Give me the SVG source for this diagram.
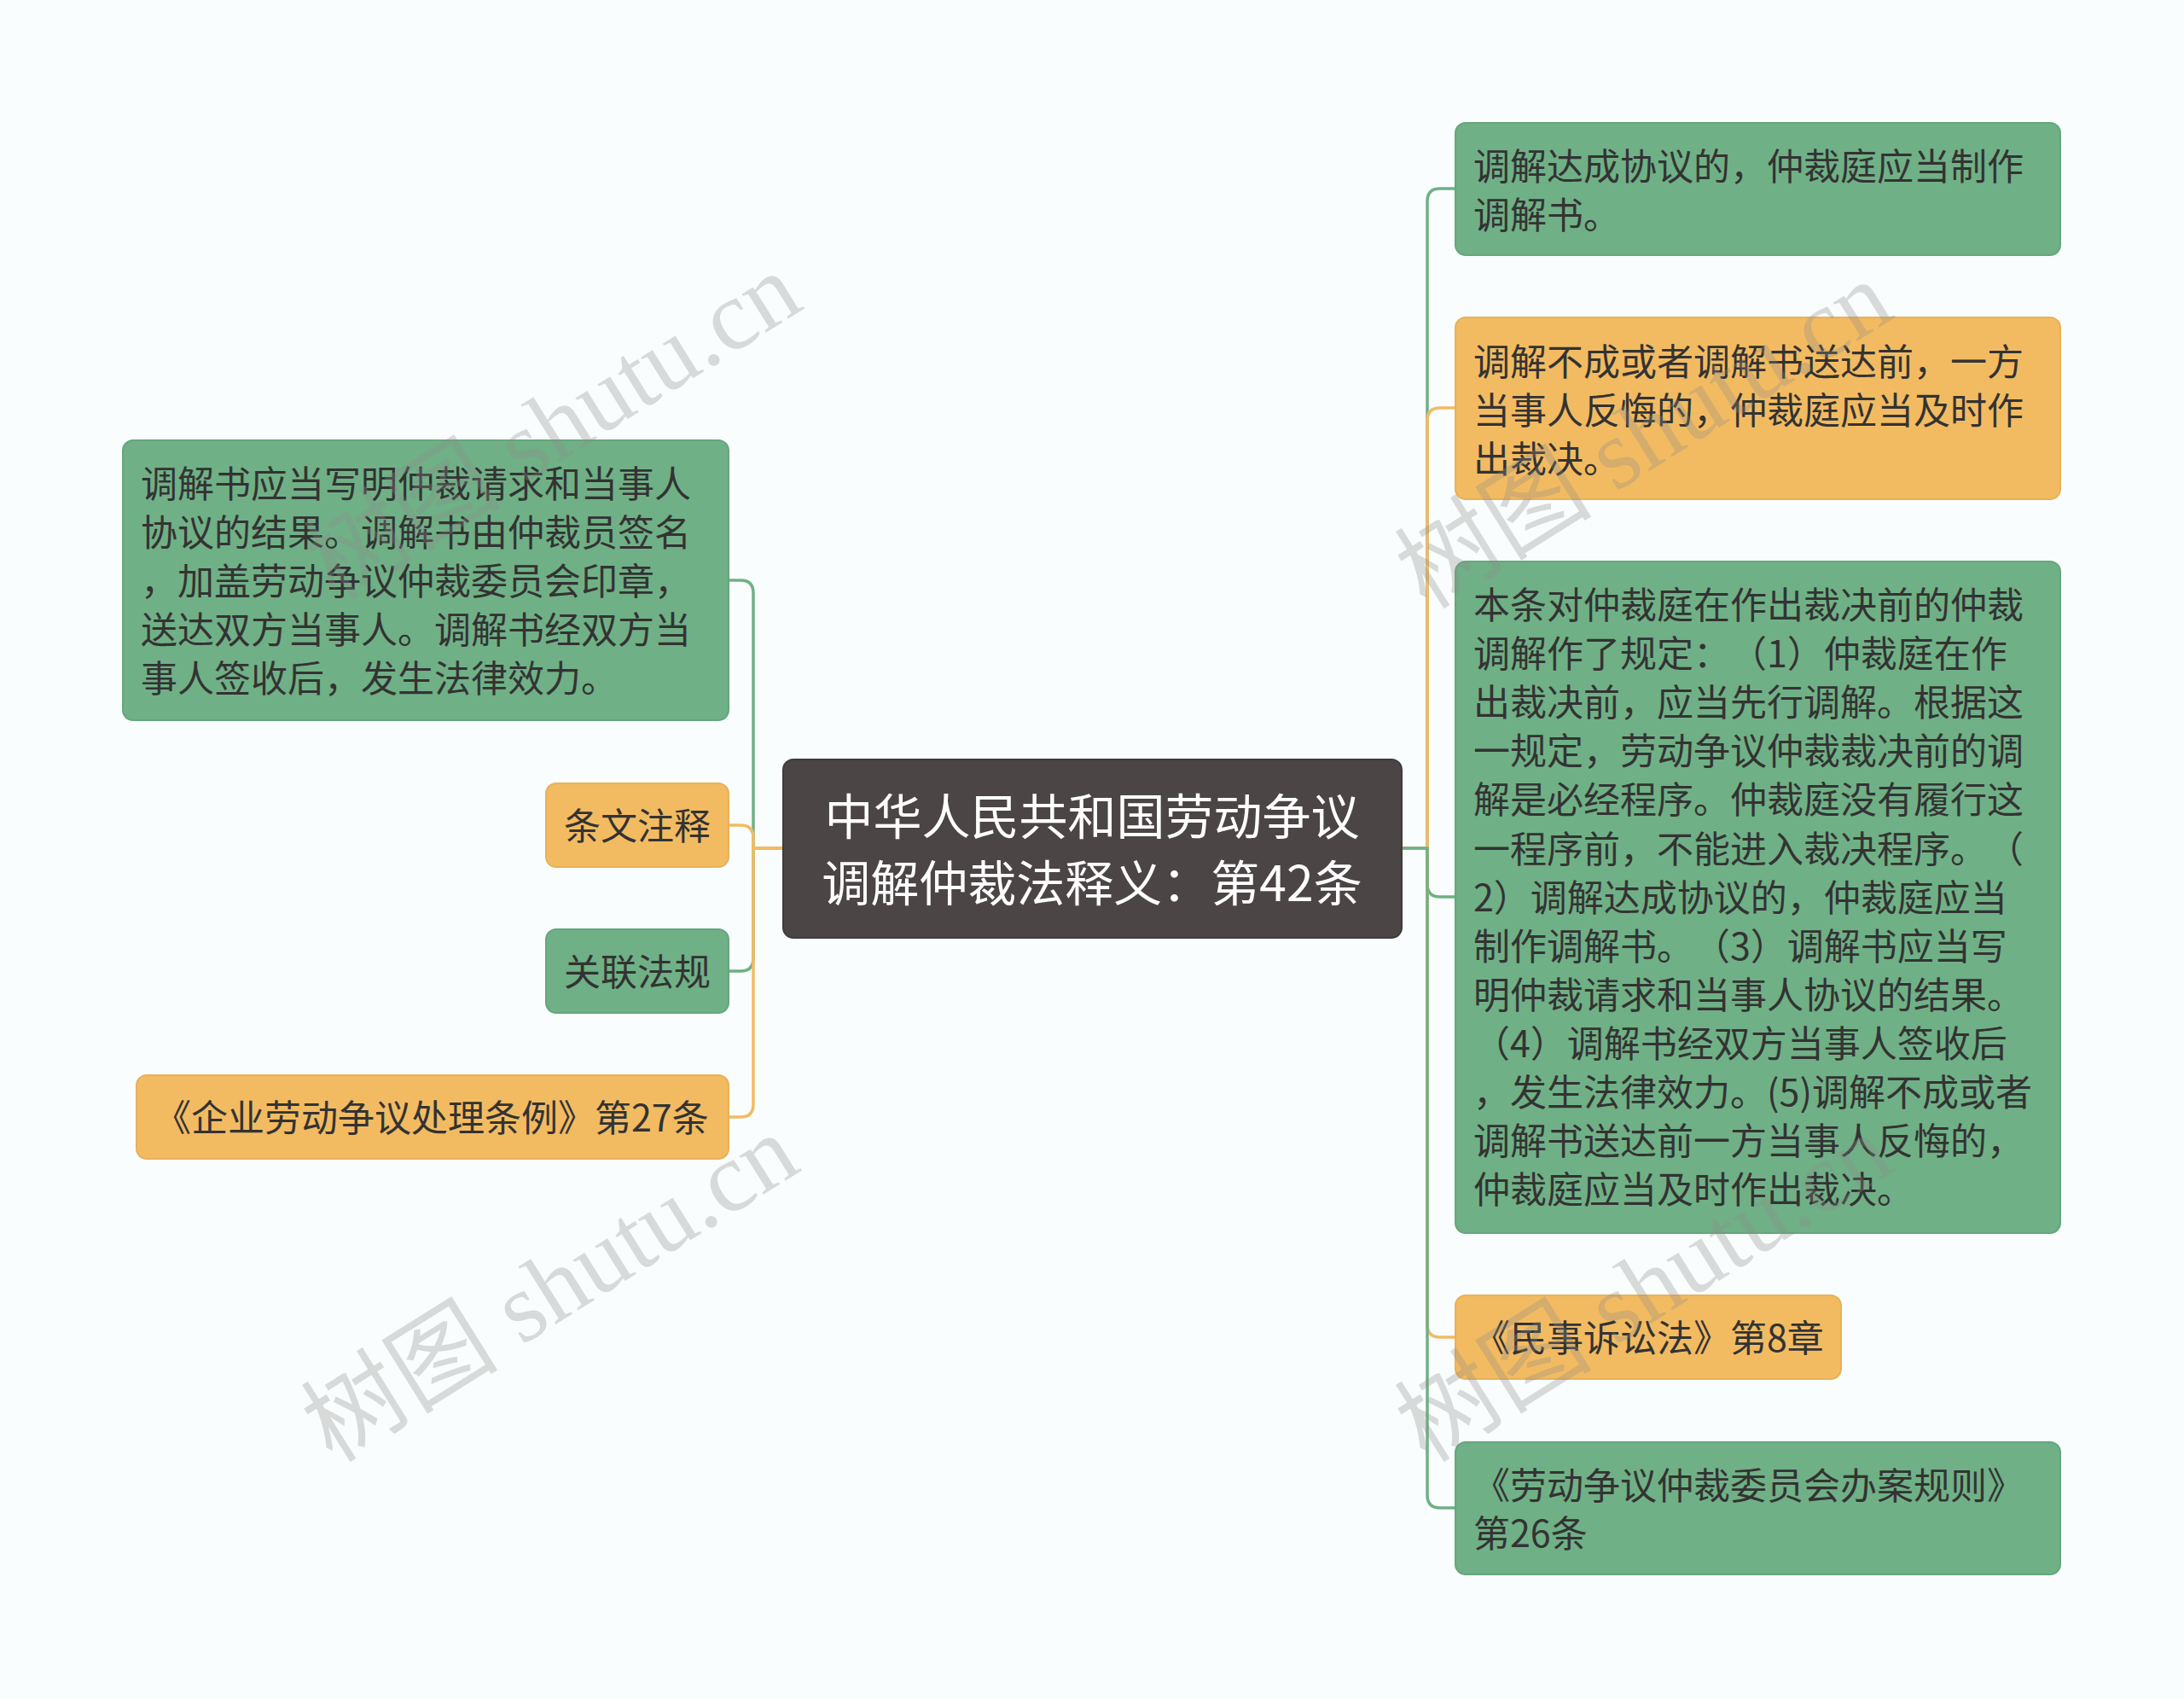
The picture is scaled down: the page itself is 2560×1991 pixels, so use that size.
<svg xmlns="http://www.w3.org/2000/svg" width="2560" height="1991" viewBox="0 0 2560 1991">
<style>
text{text-spacing-trim:space-all}
.t{font-family:"Noto Sans CJK SC","Noto Sans",sans-serif;font-size:43px;fill:#333333;dominant-baseline:central}
.ct{font-family:"Noto Sans CJK SC","Noto Sans",sans-serif;font-size:57px;fill:#ffffff;dominant-baseline:central;text-anchor:middle}
.g{fill:#70b086;stroke:#66a67c;stroke-width:2}
.o{fill:#f2bb62;stroke:#e8b158;stroke-width:2}
.c{fill:#4b4546;stroke:#3f3a3b;stroke-width:2}
.lg{fill:none;stroke:#70b086;stroke-width:3.5}
.lo{fill:none;stroke:#f2bb62;stroke-width:3.5}
.wm{font-family:"Liberation Serif","Noto Sans CJK SC",serif;font-size:116px;fill:#8a8a8a;fill-opacity:0.3;text-anchor:middle;dominant-baseline:central}
</style>
<rect x="0" y="0" width="2560" height="1991" fill="#f9fdfd"/>
<g id="connectors">
<path class="lg" d="M918 994 H883 V695 Q883 680 868 680 H854"/>
<path class="lg" d="M918 994 H883 V1123 Q883 1138 868 1138 H854"/>
<path class="lo" d="M918 994 H883 V982 Q883 967 868 967 H854"/>
<path class="lo" d="M918 994 H883 V1294 Q883 1309 868 1309 H854"/>
<path class="lg" d="M1643 994 H1673 V236 Q1673 221 1688 221 H1706"/>
<path class="lo" d="M1643 994 H1673 V493 Q1673 478 1688 478 H1706"/>
<path class="lg" d="M1643 994 H1673 V1036 Q1673 1051 1688 1051 H1706"/>
<path class="lo" d="M1643 994 H1673 V1552 Q1673 1567 1688 1567 H1706"/>
<path class="lg" d="M1643 994 H1673 V1752 Q1673 1767 1688 1767 H1706"/>
</g>
<g id="center">
<rect class="c" x="918" y="890" width="725" height="209" rx="12"/>
<text class="ct" x="1280" y="953">中华人民共和国劳动争议</text>
<text class="ct" x="1280" y="1031">调解仲裁法释义：第42条</text>
</g>
<g id="left1">
<rect class="g" x="144" y="516" width="710" height="328" rx="12"/>
<text class="t" x="165" y="564">调解书应当写明仲裁请求和当事人</text>
<text class="t" x="165" y="621">协议的结果。调解书由仲裁员签名</text>
<text class="t" x="165" y="678">，加盖劳动争议仲裁委员会印章，</text>
<text class="t" x="165" y="735">送达双方当事人。调解书经双方当</text>
<text class="t" x="165" y="792">事人签收后，发生法律效力。</text>
</g>
<g id="left2">
<rect class="o" x="640" y="918" width="214" height="98" rx="12"/>
<text class="t" x="661" y="965">条文注释</text>
</g>
<g id="left3">
<rect class="g" x="640" y="1089" width="214" height="98" rx="12"/>
<text class="t" x="661" y="1136">关联法规</text>
</g>
<g id="left4">
<rect class="o" x="160" y="1260" width="694" height="98" rx="12"/>
<text class="t" x="181" y="1307">《企业劳动争议处理条例》第27条</text>
</g>
<g id="right1">
<rect class="g" x="1706" y="144" width="709" height="155" rx="12"/>
<text class="t" x="1727" y="192">调解达成协议的，仲裁庭应当制作</text>
<text class="t" x="1727" y="249">调解书。</text>
</g>
<g id="right2">
<rect class="o" x="1706" y="372" width="709" height="213" rx="12"/>
<text class="t" x="1727" y="421">调解不成或者调解书送达前，一方</text>
<text class="t" x="1727" y="478">当事人反悔的，仲裁庭应当及时作</text>
<text class="t" x="1727" y="535">出裁决。</text>
</g>
<g id="right3">
<rect class="g" x="1706" y="658" width="709" height="787" rx="12"/>
<text class="t" x="1727" y="706">本条对仲裁庭在作出裁决前的仲裁</text>
<text class="t" x="1727" y="763">调解作了规定：（1）仲裁庭在作</text>
<text class="t" x="1727" y="820">出裁决前，应当先行调解。根据这</text>
<text class="t" x="1727" y="877">一规定，劳动争议仲裁裁决前的调</text>
<text class="t" x="1727" y="934">解是必经程序。仲裁庭没有履行这</text>
<text class="t" x="1727" y="992">一程序前，不能进入裁决程序。（</text>
<text class="t" x="1727" y="1049">2）调解达成协议的，仲裁庭应当</text>
<text class="t" x="1727" y="1106">制作调解书。（3）调解书应当写</text>
<text class="t" x="1727" y="1163">明仲裁请求和当事人协议的结果。</text>
<text class="t" x="1727" y="1220">（4）调解书经双方当事人签收后</text>
<text class="t" x="1727" y="1277">，发生法律效力。(5)调解不成或者</text>
<text class="t" x="1727" y="1334">调解书送达前一方当事人反悔的，</text>
<text class="t" x="1727" y="1391">仲裁庭应当及时作出裁决。</text>
</g>
<g id="right4">
<rect class="o" x="1706" y="1518" width="452" height="98" rx="12"/>
<text class="t" x="1727" y="1565">《民事诉讼法》第8章</text>
</g>
<g id="right5">
<rect class="g" x="1706" y="1690" width="709" height="155" rx="12"/>
<text class="t" x="1727" y="1738">《劳动争议仲裁委员会办案规则》</text>
<text class="t" x="1727" y="1794">第26条</text>
</g>
<g id="watermark">
<text class="wm" x="648" y="500" transform="rotate(-32 648 500)">树图 shutu.cn</text>
<text class="wm" x="645" y="1510" transform="rotate(-32 645 1510)">树图 shutu.cn</text>
<text class="wm" x="1927" y="510" transform="rotate(-32 1927 510)">树图 shutu.cn</text>
<text class="wm" x="1927" y="1510" transform="rotate(-32 1927 1510)">树图 shutu.cn</text>
</g>
</svg>
